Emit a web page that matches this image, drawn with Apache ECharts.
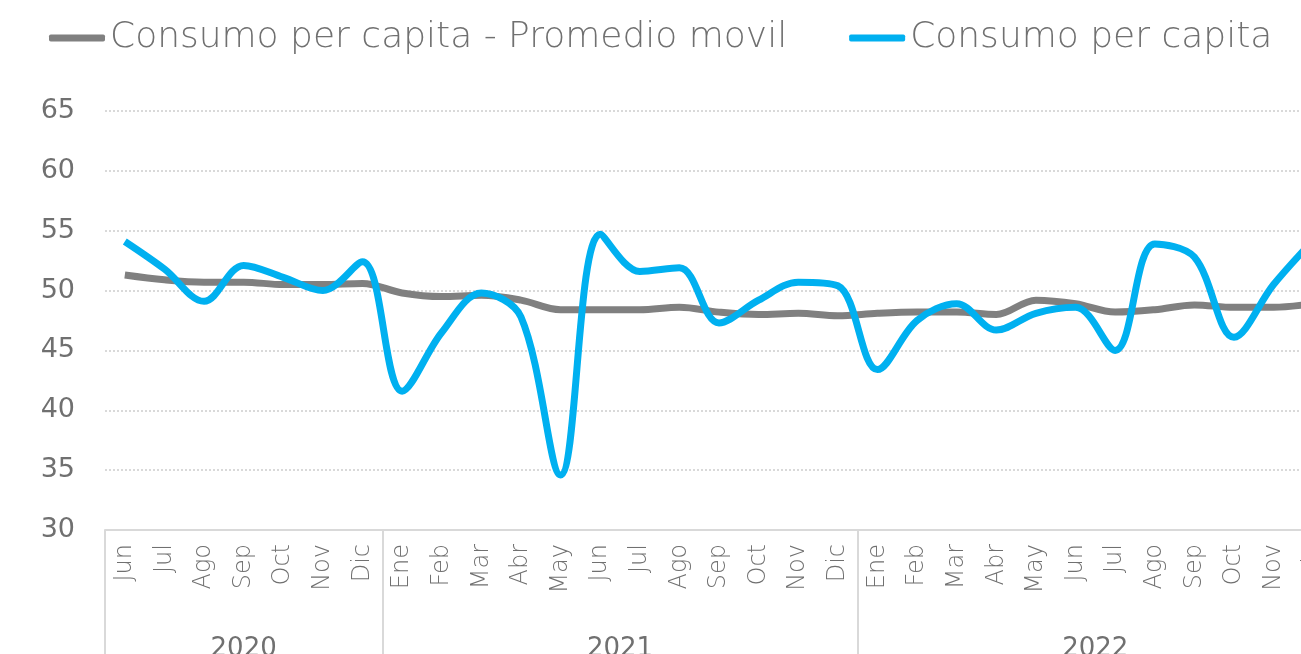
<!DOCTYPE html>
<html>
<head>
<meta charset="utf-8">
<script src="https://cdn.jsdelivr.net/npm/echarts@6/dist/echarts.min.js"></script>
<style>
  html, body { margin: 0; padding: 0; background: #fff; }
  #chart { width: 1301px; height: 654px; }
</style>
</head>
<body>
<div id="chart"></div>
<script>
// ========= datos =========
const months = [
  "Jun","Jul","Ago","Sep","Oct","Nov","Dic",
  "Ene","Feb","Mar","Abr","May","Jun","Jul","Ago","Sep","Oct","Nov","Dic",
  "Ene","Feb","Mar","Abr","May","Jun","Jul","Ago","Sep","Oct","Nov","Dic"
];
const years = ["2020","2021","2022"];
const monthsPerYear = [7, 12, 12];

const promedioMovil = [
  51.3, 50.9, 50.7, 50.7, 50.5, 50.5, 50.6,
  49.8, 49.5, 49.6, 49.2, 48.4, 48.4, 48.4, 48.6, 48.2, 48.0, 48.1, 47.9,
  48.1, 48.2, 48.2, 48.0, 49.2, 48.9, 48.2, 48.4, 48.8, 48.6, 48.6, 48.9
];
const consumo = [
  54.1, 51.8, 49.1, 52.1, 51.1, 50.0, 52.4,
  41.6, 46.5, 49.8, 47.8, 34.6, 54.7, 51.6, 51.9, 47.3, 49.2, 50.7, 50.4,
  43.4, 47.5, 48.9, 46.7, 48.1, 48.6, 45.0, 53.9, 52.8, 46.1, 50.5, 54.2
];

// ========= límites de años =========
const boundaries = [0];
monthsPerYear.forEach(n => boundaries.push(boundaries[boundaries.length - 1] + n));
const yearCenters = monthsPerYear.map((n, i) => boundaries[i] + n / 2);

const textColor = "#707070";
const font = "DejaVu Sans";

const chart = echarts.init(document.getElementById("chart"));

chart.setOption({
  animation: false,
  textStyle: { fontFamily: font, color: textColor },
  legend: {
    left: 44,
    top: 15,
    icon: "roundRect",
    itemWidth: 56,
    itemHeight: 7,
    itemGap: 62,
    textStyle: { fontSize: 36, color: textColor, fontFamily: font, fontWeight: 300 },
    data: ["Consumo per capita - Promedio movil", "Consumo per capita"]
  },
  grid: {
    left: 105, width: 1228, top: 111, bottom: 124,
    containLabel: false, outerBoundsMode: "none"
  },
  xAxis: [
    {
      type: "category",
      data: months,
      boundaryGap: true,
      axisLine: { lineStyle: { color: "#d9d9d9", width: 2 } },
      axisTick: { show: false },
      axisLabel: {
        rotate: 90,
        interval: 0,
        margin: 14,
        fontSize: 24,
        color: textColor,
        fontFamily: font,
        fontWeight: 300
      }
    },
    {
      type: "value",
      position: "bottom",
      min: 0,
      max: months.length,
      axisLine: { show: false },
      splitLine: { show: false },
      axisTick: {
        show: true,
        customValues: boundaries,
        length: 124,
        lineStyle: { color: "#d9d9d9", width: 2 }
      },
      axisLabel: {
        customValues: yearCenters,
        margin: 106,
        fontSize: 26,
        color: textColor,
        fontFamily: font,
        formatter: v => years[yearCenters.indexOf(v)] || ""
      }
    }
  ],
  yAxis: {
    type: "value",
    min: 30,
    max: 65,
    interval: 5,
    axisLine: { show: false },
    axisTick: { show: false },
    axisLabel: { fontSize: 27, color: textColor, margin: 30, fontFamily: font },
    splitLine: { lineStyle: { color: "#d9d9d9", type: "dotted", width: 2 } }
  },
  series: [
    {
      name: "Consumo per capita - Promedio movil",
      type: "line",
      data: promedioMovil,
      smooth: 0.35,
      symbol: "none",
      itemStyle: { color: "#808080" },
      lineStyle: { color: "#808080", width: 7 }
    },
    {
      name: "Consumo per capita",
      type: "line",
      data: consumo,
      smooth: 0.35,
      symbol: "none",
      itemStyle: { color: "#00B0F0" },
      lineStyle: { color: "#00B0F0", width: 7 }
    }
  ]
});
</script>
</body>
</html>
